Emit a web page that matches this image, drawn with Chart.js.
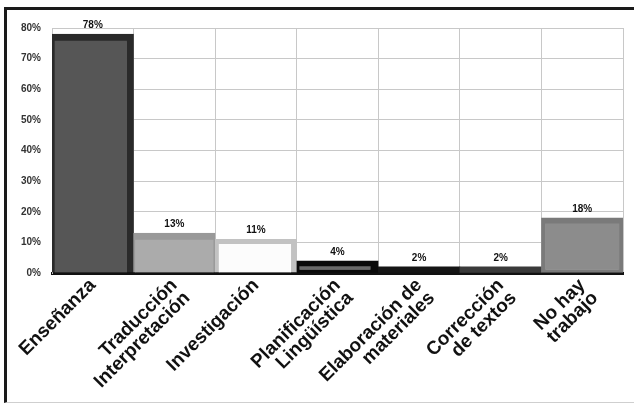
<!DOCTYPE html>
<html>
<head>
<meta charset="utf-8">
<script src="https://cdn.jsdelivr.net/npm/chart.js@4"></script>
<style>
  html, body { margin: 0; padding: 0; background: #fff; }
  #frame {
    position: absolute; left: 4px; top: 7px; width: 640px; height: 392px;
    border-left: 3px solid #1a1a1a; border-top: 3px solid #1a1a1a;
    border-bottom: 1px solid #cfcfcf;
  }
  #wrap { position: absolute; left: 0; top: 0; width: 634px; height: 404px; }
</style>
</head>
<body>
<div id="frame"></div>
<div id="wrap"><canvas id="chart"></canvas></div>
<script>
// Data
const categories = [
    ["Enseñanza"],
    ["Traducción", "Interpretación"],
    ["Investigación"],
    ["Planificación", "Lingüística"],
    ["Elaboración de", "materiales"],
    ["Corrección", "de textos"],
    ["No hay", "trabajo"]
];
const percentages = [78, 13, 11, 4, 2, 2, 18];
const yTicks = [0, 10, 20, 30, 40, 50, 60, 70, 80];

// Bar look (inner fill + darker rim)
const fillColors = ["#565656", "#ababab", "#fcfcfc", "#6a6a6a", "#151515", "#3a3a3a", "#8c8c8c"];
const rimColors = ["#2a2a2a", "#999999", "#c2c2c2", "#0a0a0a", "#151515", "#3a3a3a", "#7a7a7a"];
const rimWidths = [
    { top: 7, left: 3, right: 7, bottom: 0 },
    { top: 7, left: 2, right: 2, bottom: 0 },
    { top: 5, left: 4, right: 6, bottom: 0 },
    { top: 6, left: 3, right: 8, bottom: 3 },
    0, 0,
    { top: 6, left: 4, right: 4, bottom: 3 }
];

// Draw the "78%" style labels above each bar
const valueLabels = {
    id: "valueLabels",
    afterDatasetsDraw(chart) {
        const ctx = chart.ctx;
        const meta = chart.getDatasetMeta(0);
        ctx.save();
        ctx.font = "bold 10px 'Liberation Sans', Arial, sans-serif";
        ctx.fillStyle = "#111";
        ctx.textAlign = "center";
        ctx.textBaseline = "bottom";
        meta.data.forEach((bar, i) => {
            ctx.fillText(percentages[i] + "%", bar.x, bar.y - 4);
        });
        ctx.restore();
    }
};

const ctx = document.getElementById("chart").getContext("2d");
new Chart(ctx, {
    type: "bar",
    data: {
        labels: categories,
        datasets: [{
            data: percentages,
            backgroundColor: fillColors,
            borderColor: rimColors,
            borderWidth: rimWidths,
            borderSkipped: false,
            categoryPercentage: 1.0,
            barPercentage: 1.0
        }]
    },
    options: {
        responsive: true,
        maintainAspectRatio: false,
        animation: false,
        layout: { padding: { left: 10, right: 11, top: 28, bottom: 0 } },
        plugins: {
            legend: { display: false },
            tooltip: { enabled: false }
        },
        scales: {
            x: {
                grid: { color: "#c8c8c8", lineWidth: 1, drawTicks: false },
                border: { color: "#111", width: 3 },
                afterFit(scale) { scale.height = 131; },
                ticks: {
                    minRotation: 45,
                    maxRotation: 45,
                    padding: 3,
                    color: "#111",
                    font: { family: "'Liberation Sans', Arial, sans-serif", size: 19, weight: "bold", lineHeight: 0.95 }
                }
            },
            y: {
                min: 0,
                max: 80,
                afterBuildTicks(scale) { scale.ticks = yTicks.map(v => ({ value: v })); },
                afterFit(scale) { scale.width = 42; },
                grid: { color: "#c8c8c8", lineWidth: 1, drawTicks: false },
                border: { color: "#c8c8c8", width: 1 },
                ticks: {
                    padding: 11,
                    color: "#333",
                    font: { family: "'Liberation Sans', Arial, sans-serif", size: 10, weight: "bold" },
                    callback: (v) => v + "%"
                }
            }
        }
    },
    plugins: [valueLabels]
});
</script>
</body>
</html>
